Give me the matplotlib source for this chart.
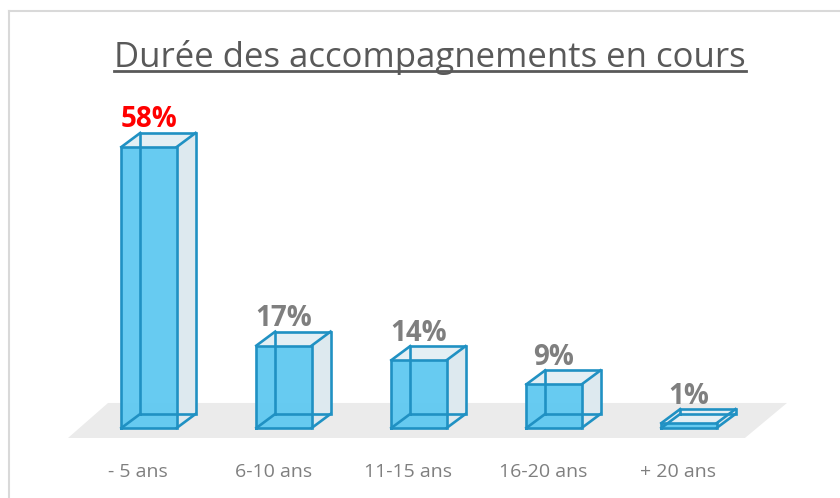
import matplotlib
matplotlib.use("Agg")
import matplotlib.pyplot as plt
from matplotlib.patches import Polygon
from matplotlib.lines import Line2D

categories = ["- 5 ans", "6-10 ans", "11-15 ans", "16-20 ans", "+ 20 ans"]
values = [58, 17, 14, 9, 1]
label_colors = ["#FF0000", "#7F7F7F", "#7F7F7F", "#7F7F7F", "#7F7F7F"]
title = "Durée des accompagnements en cours"

# pseudo-3D geometry in data units (x = category index, y = percent)
BAR_W = 0.41
DX, DY = 0.14, 2.9
FRONT = "#5FC9F1"
SIDE = "#DDE9EF"
TOP = "#E4EFF4"
EDGE = "#2091C3"


def draw_box(ax, xc, h):
    x0, x1 = xc - BAR_W / 2, xc + BAR_W / 2
    front = [(x0, 0), (x1, 0), (x1, h), (x0, h)]
    back = [(x + DX, y + DY) for x, y in front]
    side = [(x1, 0), (x1 + DX, DY), (x1 + DX, h + DY), (x1, h)]
    top = [(x0, h), (x1, h), (x1 + DX, h + DY), (x0 + DX, h + DY)]
    ax.add_patch(Polygon(side, closed=True, fc=SIDE, ec="none", zorder=2))
    ax.add_patch(Polygon(top, closed=True, fc=TOP, ec="none", zorder=2))
    ax.add_patch(Polygon(front, closed=True, fc=FRONT, ec="none", alpha=0.95, zorder=3))
    # wireframe edges (glass look: hidden edges visible too)
    for poly in (front, back):
        xs = [p[0] for p in poly] + [poly[0][0]]
        ys = [p[1] for p in poly] + [poly[0][1]]
        ax.plot(xs, ys, color=EDGE, lw=1.9, zorder=4, solid_joinstyle="miter")
    for (fx, fy), (bx, by) in zip(front, back):
        ax.plot([fx, bx], [fy, by], color=EDGE, lw=1.9, zorder=4)


fig = plt.figure(figsize=(8.4, 4.98), dpi=100)
ax = fig.add_axes([0, 0, 1, 1])
ax.set_xlim(-1.104, 5.119)
ax.set_ylim(-14.45, 88.34)
ax.axis("off")

# frame of the chart area
fig.add_artist(Line2D([9 / 840, 9 / 840], [0, 1 - 11 / 498], color="#D9D9D9", lw=1.5))
fig.add_artist(Line2D([9 / 840, 1], [1 - 11 / 498, 1 - 11 / 498], color="#D9D9D9", lw=1.5))

# floor
floor = [(-0.60, -2.06), (4.415, -2.06), (4.726, 5.16), (-0.304, 5.16)]
ax.add_patch(Polygon(floor, closed=True, fc="#EBEBEB", ec="none", zorder=1))

for i, (v, c) in enumerate(zip(values, label_colors)):
    draw_box(ax, i, v)
    ax.text(i, v + DY - 0.3, f"{v}%", ha="center", va="bottom",
            fontsize=20, fontweight="bold", color=c, family="Open Sans", zorder=5)
    ax.text(i - 0.08, -9.1, categories[i], ha="center", va="center",
            fontsize=14, color="#7F7F7F", family="Open Sans", zorder=5)

base_y = 1 - 67 / 498
t = fig.text(430 / 840, base_y, title, ha="center", va="baseline",
             fontsize=25, color="#595959", family="Open Sans")
fig.canvas.draw()
bb = t.get_window_extent()
uy = base_y - 4.5 / 498
fig.add_artist(Line2D([bb.x0 / 840, bb.x1 / 840], [uy, uy],
                      color="#595959", lw=2))

fig.savefig("out.png", dpi=100)
